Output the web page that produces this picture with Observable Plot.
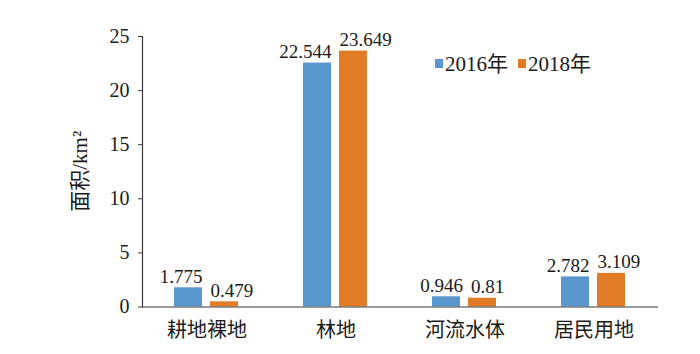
<!DOCTYPE html>
<html>
<head>
<meta charset="utf-8">
<script src="https://cdn.jsdelivr.net/npm/d3@7"></script>
<script src="https://cdn.jsdelivr.net/npm/@observablehq/plot@0.6"></script>
<style>
  body { margin: 0; background: #fff; }
</style>
</head>
<body>
<div id="chart"></div>
<script>
const categories = ["耕地裸地", "林地", "河流水体", "居民用地"];
const years = ["2016年", "2018年"];
const values2016 = [1.775, 22.544, 0.946, 2.782];
const values2018 = [0.479, 23.649, 0.81, 3.109];
const yTicks = [0, 5, 10, 15, 20, 25];
const colors = ["#5b97cf", "#e27b26"];
const yTitle = "面积/km²";

const W = 700, H = 354, ML = 141, MR = 41, MT = 36, MB = 47.5;
const labelFont = 19;

// estimated label width (serif digits 0.5em, period 0.25em)
const textW = s => [...s].reduce((a, c) => a + (c === "." ? 0.25 : 0.5) * labelFont, 0);
const pxPerUnit = (H - MT - MB) / 25;
const barStep = 37;

const data = categories.flatMap((c, i) => {
  const a = values2016[i], b = values2018[i];
  const wa = textW(String(a)), wb = textW(String(b));
  let shift = 0;
  if (Math.abs(a - b) * pxPerUnit < labelFont) {
    shift = Math.max(0, (wa / 2 + wb / 2 + 9 - barStep) / 2);
  }
  return [
    {cat: c, year: years[0], v: a, dx: -shift},
    {cat: c, year: years[1], v: b, dx: shift}
  ];
});

const font = "'Liberation Serif', 'Times New Roman', 'Noto Sans CJK SC', serif";

const svg = Plot.plot({
  width: W,
  height: H,
  marginLeft: ML,
  marginRight: MR,
  marginTop: MT,
  marginBottom: MB,
  fx: {domain: categories, padding: 0, label: null},
  x: {domain: years, paddingInner: 0.216, paddingOuter: 0.858, axis: null},
  y: {domain: [0, 25]},
  color: {domain: years, range: colors},
  style: {fontFamily: font, fontSize: "19px", color: "#1a1a1a", background: "#fff"},
  marks: [
    Plot.barY(data, {fx: "cat", x: "year", y: "v", fill: "year"}),
    ...data.map(d => Plot.text([d], {fx: "cat", x: "year", y: "v", text: d => String(d.v), dx: d.dx, dy: -5, lineAnchor: "bottom", fontSize: labelFont, fill: "#1a1a1a"})),
    Plot.ruleY([0], {stroke: "#3a3a3a", strokeWidth: 1.2}),
    Plot.frame({anchor: "left", facetAnchor: "left", stroke: "#3a3a3a", strokeWidth: 1.2}),
    Plot.axisY({ticks: yTicks, tickSize: 4, tickPadding: 9, label: null, fontSize: 20, stroke: "#3a3a3a"}),
    Plot.axisFx({anchor: "bottom", tickSize: 0, tickPadding: 16, fontSize: 20, label: null})
  ]
});

const root = d3.select(svg);

// y-axis title
root.append("text")
  .attr("transform", `translate(${ML - 61},${(MT + H - MB) / 2}) rotate(-90)`)
  .attr("text-anchor", "middle")
  .attr("dy", "0.35em")
  .attr("font-family", font)
  .attr("font-size", 21)
  .attr("fill", "#1a1a1a")
  .text(yTitle);

// legend
const lg = root.append("g")
  .attr("font-family", font)
  .attr("font-size", 21)
  .attr("text-anchor", "start")
  .attr("fill", "#1a1a1a");
const item = lg.selectAll("g").data(years).join("g")
  .attr("transform", (d, i) => `translate(${435 + i * 83},64)`);
item.append("rect").attr("x", 0).attr("y", -5).attr("width", 8).attr("height", 9)
  .attr("fill", (d, i) => colors[i]);
item.append("text").attr("x", 10).attr("dy", "0.35em").attr("text-anchor", "start").text(d => d);

document.getElementById("chart").appendChild(svg);
</script>
</body>
</html>
